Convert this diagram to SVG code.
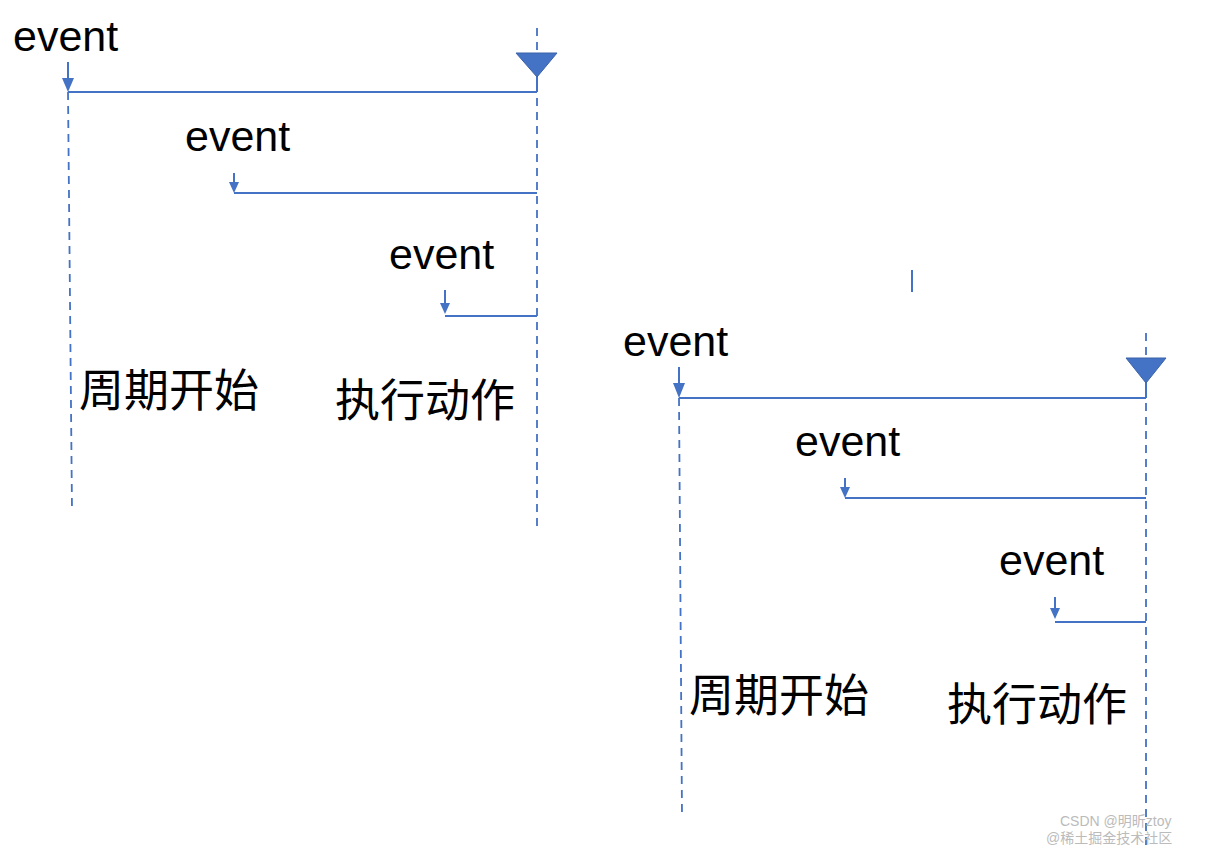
<svg xmlns="http://www.w3.org/2000/svg" width="1212" height="848" viewBox="0 0 1212 848">
<style>
.dash{stroke:#4472C4;stroke-width:1.8;stroke-dasharray:8,6;fill:none}
.ln{stroke:#4472C4;stroke-width:2;fill:none}
.tri{fill:#4472C4;stroke:#3a62a8;stroke-width:1}
.lbl{font-family:"Liberation Sans","Noto Sans CJK SC",sans-serif;font-size:43px;fill:#000}
.cn{font-family:"Noto Sans CJK SC",sans-serif;font-size:45px;fill:#000}
.wm{font-family:"Liberation Sans","Noto Sans CJK SC",sans-serif;font-size:14px;fill:#bbb}
</style>
<rect width="1212" height="848" fill="#fff"/>
<g id="connectors">
<line class="dash" x1="68" y1="92" x2="72" y2="510"/>
<line class="dash" x1="537" y1="28" x2="537" y2="530"/>
<line class="ln" x1="68" y1="62" x2="68" y2="80"/>
<path d="M62,78 L74,78 L68,92 Z" fill="#4472C4"/>
<line class="ln" x1="68" y1="92" x2="537" y2="92"/>
<line class="ln" x1="537" y1="76" x2="537" y2="92"/>
<line class="ln" x1="234" y1="173" x2="234" y2="184"/>
<path d="M229,182 L239,182 L234,193 Z" fill="#4472C4"/>
<line class="ln" x1="234" y1="193" x2="537" y2="193"/>
<line class="ln" x1="445" y1="290" x2="445" y2="305"/>
<path d="M440,303 L450,303 L445,314 Z" fill="#4472C4"/>
<line class="ln" x1="445" y1="316" x2="537" y2="316"/>
<line class="dash" x1="679" y1="398" x2="682" y2="815"/>
<line class="dash" x1="1146" y1="333" x2="1146" y2="848"/>
<line class="ln" x1="679" y1="367" x2="679" y2="385"/>
<path d="M673,383 L685,383 L679,398 Z" fill="#4472C4"/>
<line class="ln" x1="679" y1="398" x2="1146" y2="398"/>
<line class="ln" x1="1146" y1="382" x2="1146" y2="398"/>
<line class="ln" x1="845" y1="478" x2="845" y2="489"/>
<path d="M840,487 L850,487 L845,498 Z" fill="#4472C4"/>
<line class="ln" x1="845" y1="498" x2="1146" y2="498"/>
<line class="ln" x1="1055" y1="597" x2="1055" y2="610"/>
<path d="M1050,608 L1060,608 L1055,619 Z" fill="#4472C4"/>
<line class="ln" x1="1055" y1="622" x2="1146" y2="622"/>
<line class="ln" x1="912" y1="270" x2="912" y2="292"/>
</g>
<g id="trigger-left"><path class="tri" d="M516,53 L557,53 L537,77 Z"/></g>
<g id="trigger-right"><path class="tri" d="M1126,358 L1166,358 L1146,383 Z"/></g>
<g id="labels-left">
<text class="lbl" x="13" y="51">event</text>
<text class="lbl" x="185" y="151">event</text>
<text class="lbl" x="389" y="269">event</text>
<text class="cn" x="79" y="407">周期开始</text>
<text class="cn" x="335" y="417">执行动作</text>
</g>
<g id="labels-right">
<text class="lbl" x="623" y="356">event</text>
<text class="lbl" x="795" y="456">event</text>
<text class="lbl" x="999" y="575">event</text>
<text class="cn" x="689" y="712">周期开始</text>
<text class="cn" x="947" y="721">执行动作</text>
</g>
<g id="watermark">
<text class="wm" x="1060" y="826">CSDN @明昕ztoy</text>
<text class="wm" x="1046" y="843">@稀土掘金技术社区</text>
</g>
</svg>
